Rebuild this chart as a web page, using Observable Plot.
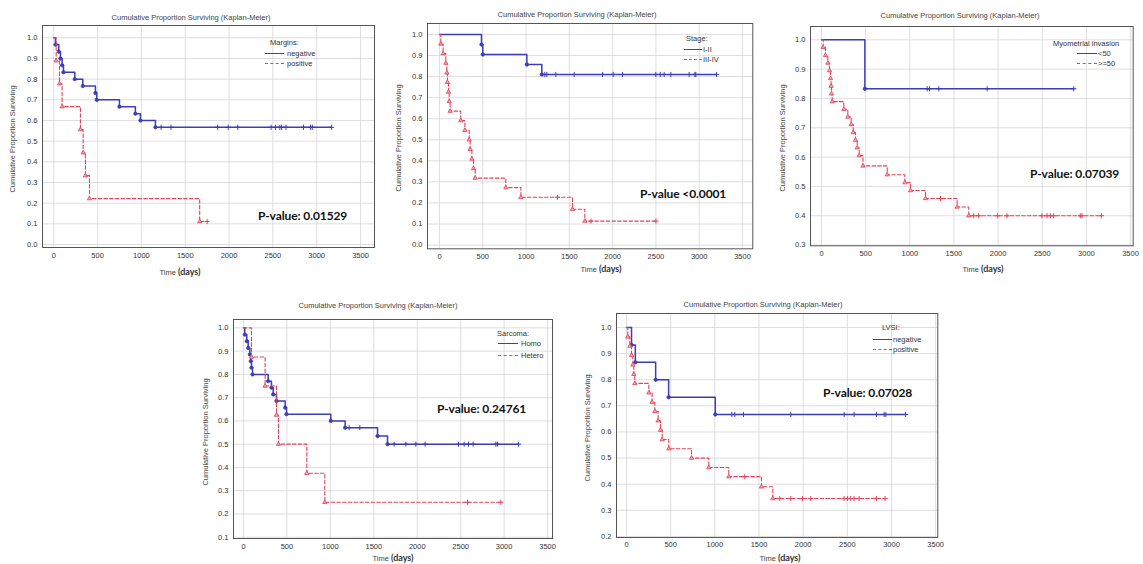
<!DOCTYPE html>
<html><head><meta charset="utf-8">
<script src="https://cdn.jsdelivr.net/npm/d3@7"></script>
<script src="https://cdn.jsdelivr.net/npm/@observablehq/plot@0.6"></script>
<style>
html,body{margin:0;padding:0;background:#fff}
body{position:relative;width:1143px;height:564px;overflow:hidden;font-family:"Liberation Sans",Arial,sans-serif}
.abs{position:absolute;white-space:nowrap}
.title{font-size:7.5px;color:#444;transform:translate(-50%,-50%)}
.xlab{font-size:7.5px;color:#444;transform:translate(-50%,-50%)}
.xlab b{font-family:Lato,"Open Sans",sans-serif;font-size:9px;color:#333}
.ylab{font-size:7.5px;color:#444;transform:translate(-50%,-50%) rotate(-90deg)}
.pval{font-family:Lato,"Open Sans",sans-serif;font-weight:700;font-size:12px;letter-spacing:-0.1px;color:#111;transform:translateY(-50%)}
.leg{font-size:7.5px;color:#333;transform:translateY(-50%)}
.sample{position:absolute;height:0}
</style>
</head><body>
<script>
// ---------- shared labels & ticks ----------
const chartTitle = "Cumulative Proportion Surviving (Kaplan-Meier)";
const yAxisTitle = "Cumulative Proportion Surviving";
const xTicks = [0, 500, 1000, 1500, 2000, 2500, 3000, 3500];
const yTicks0 = [0, 0.1, 0.2, 0.3, 0.4, 0.5, 0.6, 0.7, 0.8, 0.9, 1.0];
const yTicks3 = [0.3, 0.4, 0.5, 0.6, 0.7, 0.8, 0.9, 1.0];
const yTicks1 = [0.1, 0.2, 0.3, 0.4, 0.5, 0.6, 0.7, 0.8, 0.9, 1.0];
const yTicks2 = [0.2, 0.3, 0.4, 0.5, 0.6, 0.7, 0.8, 0.9, 1.0];

// ---------- Margins ----------
const marginsTitle = "Margins:";
const marginsGroups = ["negative", "positive"];
const marginsNegTime = [19, 57, 76, 95, 110, 240, 331, 475, 490, 749, 931, 989, 1160];
const marginsNegSurv = [0.967, 0.933, 0.900, 0.867, 0.833, 0.800, 0.767, 0.733, 0.700, 0.667, 0.633, 0.600, 0.567];
const marginsNegCens = [1224, 1338, 1870, 1990, 2100, 2480, 2530, 2580, 2600, 2650, 2850, 2930, 2950, 3170];
const marginsPosTime = [27, 65, 95, 304, 335, 361, 407, 1665];
const marginsPosSurv = [0.889, 0.778, 0.667, 0.556, 0.444, 0.333, 0.222, 0.111];
const marginsPosCens = [1750];
const marginsP = "P-value: 0.01529";

// ---------- Stage ----------
const stageTitle = "Stage:";
const stageGroups = ["I-II", "III-IV"];
const stageLowTime = [485, 500, 1009, 1182];
const stageLowSurv = [0.952, 0.905, 0.857, 0.810];
const stageLowCens = [1217, 1240, 1344, 1556, 1883, 2006, 2114, 2499, 2550, 2595, 2672, 2884, 2950, 2961, 3200];
const stageHighTime = [15, 42, 73, 85, 92, 104, 112, 123, 246, 293, 343, 354, 374, 393, 412, 766, 940, 1536, 1679];
const stageHighSurv = [0.955, 0.909, 0.864, 0.818, 0.773, 0.727, 0.682, 0.636, 0.591, 0.545, 0.500, 0.455, 0.409, 0.364, 0.318, 0.273, 0.227, 0.170, 0.114];
const stageHighCens = [1362, 1750, 2500];
const stageP = "P-value <0.0001";

// ---------- Myometrial invasion ----------
const myoTitle = "Myometrial invasion";
const myoGroups = ["<50", ">=50"];
const myoLowTime = [491];
const myoLowSurv = [0.833];
const myoLowCens = [1197, 1223, 1329, 1876, 2857];
const myoHighTime = [19, 45, 72, 91, 102, 109, 113, 121, 253, 298, 336, 359, 385, 404, 427, 470, 744, 944, 1008, 1178, 1536, 1668];
const myoHighSurv = [0.974, 0.947, 0.921, 0.895, 0.868, 0.842, 0.816, 0.789, 0.763, 0.737, 0.711, 0.684, 0.658, 0.632, 0.605, 0.570, 0.540, 0.513, 0.486, 0.459, 0.430, 0.400];
const myoHighCens = [1348, 1724, 1781, 1996, 2101, 2497, 2554, 2592, 2629, 2931, 2950, 3170];
const myoP = "P-value: 0.07039";

// ---------- Sarcoma ----------
const sarcomaTitle = "Sarcoma:";
const sarcomaGroups = ["Homo", "Hetero"];
const homoTime = [15, 38, 54, 73, 84, 92, 104, 284, 322, 342, 380, 480, 495, 1005, 1170, 1543, 1658];
const homoSurv = [0.971, 0.943, 0.914, 0.886, 0.857, 0.829, 0.800, 0.771, 0.743, 0.714, 0.686, 0.657, 0.629, 0.600, 0.571, 0.535, 0.500];
const homoCens = [1216, 1339, 1734, 1869, 1984, 2091, 2475, 2540, 2590, 2644, 2905, 2924, 3166];
const heteroTime = [92, 249, 380, 403, 729, 936];
const heteroSurv = [0.875, 0.750, 0.625, 0.500, 0.375, 0.250];
const heteroCens = [2579, 2962];
const sarcomaP = "P-value: 0.24761";

// ---------- LVSI ----------
const lvsiTitle = "LVSI:";
const lvsiGroups = ["negative", "positive"];
const lvsiNegTime = [57, 100, 330, 477, 1005];
const lvsiNegSurv = [0.933, 0.867, 0.800, 0.733, 0.667];
const lvsiNegCens = [1192, 1226, 1324, 1860, 2464, 2577, 2830, 2917, 2936, 3160];
const lvsiPosTime = [15, 38, 57, 72, 83, 94, 253, 290, 321, 358, 385, 404, 479, 736, 932, 1158, 1528, 1656];
const lvsiPosSurv = [0.964, 0.929, 0.893, 0.857, 0.821, 0.786, 0.750, 0.714, 0.679, 0.643, 0.607, 0.571, 0.536, 0.500, 0.464, 0.429, 0.390, 0.345];
const lvsiPosCens = [1339, 1735, 1860, 1992, 2086, 2463, 2501, 2539, 2576, 2633, 2829, 2927];
const lvsiP = "P-value: 0.07028";

// ---------- styles ----------
const BLUE = "#3d3db8";
const RED = "#e3435a";

const panels = [
  {frame:[42,25,374,247], xd:[-129,3660], yd:[-0.0145,1.0595], yTicks:yTicks0,
   titleX:191, titleY:17, xlabX:180, xlabY:271, ylabX:12,
   series:[[marginsNegTime,marginsNegSurv,marginsNegCens],[marginsPosTime,marginsPosSurv,marginsPosCens]],
   legTitle:marginsTitle, groups:marginsGroups, leg:{tx:270, ty:42, lx:265, lw:19, gx:287, rows:[53,63]},
   p:marginsP, px:258, py:215},
  {frame:[426.7,22.7,752,248], xd:[-138.6,3619], yd:[-0.0176,1.052], yTicks:yTicks0,
   titleX:577, titleY:14, xlabX:601, xlabY:268, ylabX:398,
   series:[[stageLowTime,stageLowSurv,stageLowCens],[stageHighTime,stageHighSurv,stageHighCens]],
   legTitle:stageTitle, groups:stageGroups, leg:{tx:686, ty:38.3, lx:684, lw:18, gx:703, rows:[49.3,59.3]},
   p:stageP, px:640, py:192.7},
  {frame:[810,25.7,1132.7,245], xd:[-124.6,3530], yd:[0.2976,1.0453], yTicks:yTicks3,
   titleX:960, titleY:15, xlabX:983, xlabY:268, ylabX:782,
   series:[[myoLowTime,myoLowSurv,myoLowCens],[myoHighTime,myoHighSurv,myoHighCens]],
   legTitle:myoTitle, groups:myoGroups, leg:{tx:1053, ty:42.7, lx:1077, lw:20, gx:1098, rows:[52.7,63.3]},
   p:myoP, px:1030, py:172.7},
  {frame:[232.7,319.3,551.7,538.3], xd:[-115,3557], yd:[0.0944,1.036], yTicks:yTicks1,
   titleX:378, titleY:305, xlabX:393, xlabY:557, ylabX:205,
   series:[[homoTime,homoSurv,homoCens],[heteroTime,heteroSurv,heteroCens]],
   legTitle:sarcomaTitle, groups:sarcomaGroups, leg:{tx:497, ty:333.3, lx:498, lw:20, gx:521, rows:[343.3,355]},
   p:sarcomaP, px:437, py:408.3},
  {frame:[615.7,312.7,937,536.7], xd:[-113,3524], yd:[0.196,1.0536], yTicks:yTicks2,
   titleX:763, titleY:304, xlabX:780, xlabY:557, ylabX:587,
   series:[[lvsiNegTime,lvsiNegSurv,lvsiNegCens],[lvsiPosTime,lvsiPosSurv,lvsiPosCens]],
   legTitle:lvsiTitle, groups:lvsiGroups, leg:{tx:882, ty:326.7, lx:873, lw:19, gx:893, rows:[338.7,349.3]},
   p:lvsiP, px:823, py:391.7}
];

function seriesMarks([time, surv, cens], k) {
  const color = k === 0 ? BLUE : RED;
  const events = time.map((t, i) => ({t, s: surv[i]}));
  const survAt = t => { let s = 1; for (const e of events) if (e.t <= t) s = e.s; return s; };
  const end = Math.max(time[time.length - 1], ...cens);
  const steps = [{t: 0, s: 1}, ...events, {t: end, s: survAt(end)}];
  const censored = cens.map(t => ({t, s: survAt(t)}));
  return [
    Plot.line(steps, {x: "t", y: "s", curve: "step-after", stroke: color,
      strokeWidth: k === 0 ? 1.5 : 1.1, strokeDasharray: k === 0 ? null : "3.5,2.2"}),
    Plot.dot(events, {x: "t", y: "s", r: k === 0 ? 1.7 : 1.6,
      symbol: k === 0 ? "circle" : "triangle",
      fill: k === 0 ? color : "#f3a3b0", stroke: color, strokeWidth: 0.8}),
    Plot.dot(censored, {x: "t", y: "s", symbol: "plus", r: 1.8, stroke: color, strokeWidth: 1})
  ];
}

function addDiv(cls, html, x, y) {
  const d = document.createElement("div");
  d.className = "abs " + cls;
  d.innerHTML = html;
  d.style.left = x + "px";
  d.style.top = y + "px";
  document.body.appendChild(d);
  return d;
}

for (const p of panels) {
  const [L, T, R, B] = p.frame;
  const mL = 42, mT = 26, mR = 10, mB = 28;
  const width = R - L + mL + mR, height = B - T + mT + mB;
  const svg = Plot.plot({
    width, height, marginLeft: mL, marginTop: mT, marginRight: mR, marginBottom: mB,
    x: {domain: p.xd, axis: null},
    y: {domain: p.yd, axis: null},
    style: {fontFamily: "Liberation Sans, Arial, sans-serif", fontSize: "7.5px", background: "transparent", color: "#333", overflow: "visible"},
    marks: [
      Plot.ruleX(xTicks, {x: d => d, stroke: "#d6d6d6", strokeWidth: 0.8}),
      Plot.ruleY(p.yTicks, {y: d => d, stroke: "#d6d6d6", strokeWidth: 0.8}),
      ...p.series.flatMap((s, k) => seriesMarks(s, k)),
      Plot.frame({stroke: "#555", strokeWidth: 1}),
      Plot.text(xTicks, {x: d => d, text: d => String(d), frameAnchor: "bottom", dy: 10, fill: "#333", fontSize: 7.5}),
      Plot.text(p.yTicks, {y: d => d, text: d => d.toFixed(1), frameAnchor: "left", dx: -5, textAnchor: "end", fill: "#333", fontSize: 7.5})
    ]
  });
  svg.style.position = "absolute";
  svg.style.left = (L - mL) + "px";
  svg.style.top = (T - mT) + "px";
  document.body.appendChild(svg);

  addDiv("title", chartTitle, p.titleX, p.titleY);
  addDiv("xlab", "Time <b>(days)</b>", p.xlabX, p.xlabY);
  addDiv("ylab", yAxisTitle, p.ylabX, (T + B) / 2 + 3);
  addDiv("pval", p.p, p.px, p.py);

  const lg = p.leg;
  addDiv("leg", p.legTitle, lg.tx, lg.ty);
  p.groups.forEach((g, k) => {
    const y = lg.rows[k];
    const line = document.createElement("div");
    line.className = "sample";
    line.style.left = lg.lx + "px";
    line.style.top = y + "px";
    line.style.width = lg.lw + "px";
    line.style.borderTop = k === 0 ? `1.4px solid ${BLUE}` : `1.1px dashed ${RED}`;
    document.body.appendChild(line);
    addDiv("leg", g, lg.gx, y);
  });
}
</script>
</body></html>
